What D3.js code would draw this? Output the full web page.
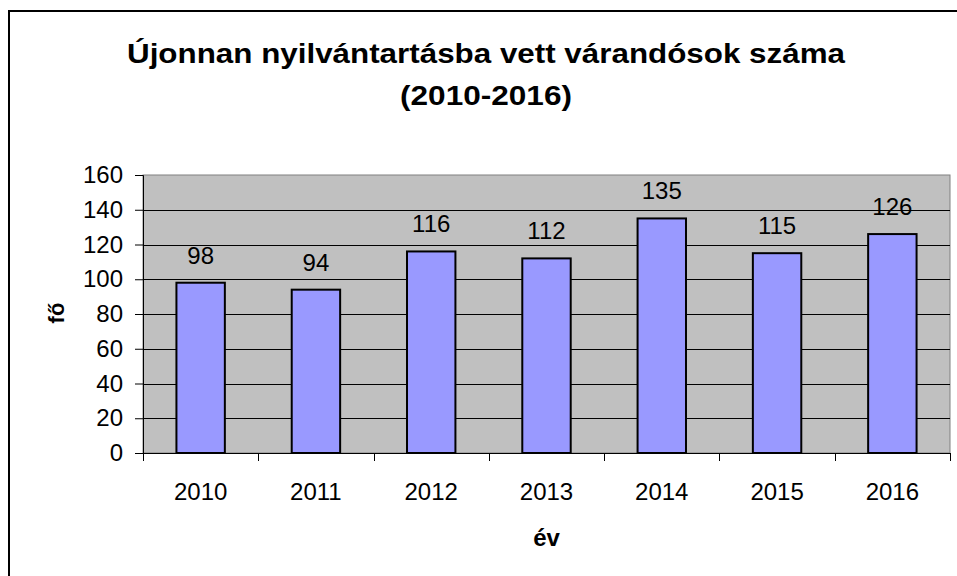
<!DOCTYPE html>
<html>
<head>
<meta charset="utf-8">
<script src="https://cdn.jsdelivr.net/npm/d3@7"></script>
<style>
  body { margin: 0; background: #fff; }
  text { font-family: "Liberation Sans", Arial, sans-serif; }
</style>
</head>
<body>
<div id="container"></div>
<script>
var years = ['2010', '2011', '2012', '2013', '2014', '2015', '2016'];
var values = [98, 94, 116, 112, 135, 115, 126];
var yTicks = [0, 20, 40, 60, 80, 100, 120, 140, 160];

var width = 957,
    height = 576;
var plot = { left: 143, top: 175, right: 950, bottom: 453 };

var svg = d3.select("#container").append("svg")
    .attr("width", width)
    .attr("height", height);

// outer chart border (runs off the right and bottom edges)
svg.append("rect")
    .attr("x", 9).attr("y", 11)
    .attr("width", 1000).attr("height", 700)
    .attr("fill", "#fff")
    .attr("stroke", "#000")
    .attr("stroke-width", 2);

var x = d3.scaleBand()
    .domain(years)
    .range([plot.left, plot.right])
    .paddingInner(0.58)
    .paddingOuter(0.29);

var y = d3.scaleLinear()
    .domain([0, 160])
    .range([plot.bottom, plot.top]);

// plot background
svg.append("rect")
    .attr("x", plot.left).attr("y", plot.top)
    .attr("width", plot.right - plot.left)
    .attr("height", plot.bottom - plot.top)
    .attr("fill", "#c0c0c0")
    .attr("stroke", "#808080")
    .attr("stroke-width", 1);

// gridlines
svg.append("g").selectAll("line")
    .data(yTicks.filter(function (d) { return d > 0 && d < 160; }))
    .enter().append("line")
    .attr("x1", plot.left).attr("x2", plot.right)
    .attr("y1", function (d) { return Math.round(y(d)) + 0.5; })
    .attr("y2", function (d) { return Math.round(y(d)) + 0.5; })
    .attr("stroke", "#000")
    .attr("stroke-width", 1);

// bars
svg.append("g").selectAll("rect")
    .data(values)
    .enter().append("rect")
    .attr("x", function (d, i) { return x(years[i]); })
    .attr("y", function (d) { return y(d); })
    .attr("width", x.bandwidth())
    .attr("height", function (d) { return y(0) - y(d); })
    .attr("fill", "#9999ff")
    .attr("stroke", "#000")
    .attr("stroke-width", 2);

// data labels
svg.append("g").selectAll("text")
    .data(values)
    .enter().append("text")
    .attr("x", function (d, i) { return x(years[i]) + x.bandwidth() / 2; })
    .attr("y", function (d) { return y(d) - 19; })
    .attr("text-anchor", "middle")
    .attr("font-size", 24)
    .text(function (d) { return d; });

// y axis
var yAxis = d3.axisLeft(y)
    .tickValues(yTicks)
    .tickSize(8)
    .tickPadding(12);
var gy = svg.append("g")
    .attr("transform", "translate(" + plot.left + ",0)")
    .call(yAxis);
gy.select(".domain").attr("stroke", "#000").attr("stroke-width", 1);
gy.selectAll("text").attr("font-size", 24).attr("fill", "#000")
    .attr("font-family", "'Liberation Sans', Arial, sans-serif");

// x axis: ticks between categories
var xTickPos = d3.range(years.length + 1).map(function (i) {
    return plot.left + i * (plot.right - plot.left) / years.length;
});
svg.append("line")
    .attr("x1", plot.left).attr("x2", plot.right)
    .attr("y1", plot.bottom + 0.5).attr("y2", plot.bottom + 0.5)
    .attr("stroke", "#000");
svg.append("g").selectAll("line")
    .data(xTickPos)
    .enter().append("line")
    .attr("x1", function (d) { return Math.round(d) + 0.5; })
    .attr("x2", function (d) { return Math.round(d) + 0.5; })
    .attr("y1", plot.bottom)
    .attr("y2", plot.bottom + 8)
    .attr("stroke", "#000");
svg.append("g").selectAll("text")
    .data(years)
    .enter().append("text")
    .attr("x", function (d) { return x(d) + x.bandwidth() / 2; })
    .attr("y", 500)
    .attr("text-anchor", "middle")
    .attr("font-size", 24)
    .text(function (d) { return d; });

// title
var title = svg.append("text")
    .attr("text-anchor", "middle")
    .attr("font-size", 27)
    .attr("font-weight", "bold");
title.append("tspan").attr("x", 486).attr("y", 63)
    .attr("textLength", 718).attr("lengthAdjust", "spacingAndGlyphs")
    .text("Újonnan nyilvántartásba vett várandósok száma");
title.append("tspan").attr("x", 486).attr("y", 105)
    .attr("textLength", 172).attr("lengthAdjust", "spacingAndGlyphs")
    .text("(2010-2016)");

// axis titles
svg.append("text")
    .attr("x", (plot.left + plot.right) / 2).attr("y", 546)
    .attr("text-anchor", "middle")
    .attr("font-size", 24)
    .attr("font-weight", "bold")
    .text("év");
svg.append("text")
    .attr("transform", "translate(64,313) rotate(-90)")
    .attr("text-anchor", "middle")
    .attr("font-size", 22)
    .attr("font-weight", "bold")
    .text("fő");
</script>
</body>
</html>
